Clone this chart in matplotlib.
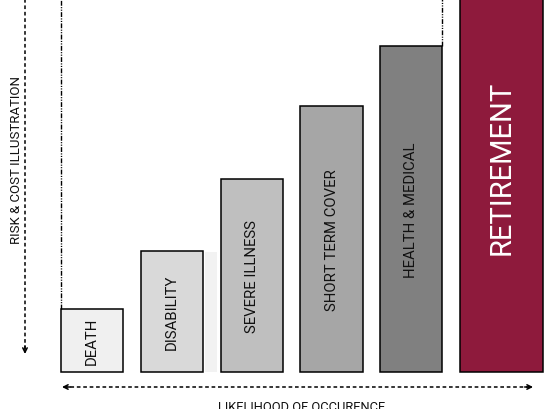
import matplotlib
matplotlib.use("Agg")
import matplotlib.pyplot as plt

plt.rcParams['font.family'] = ['Roboto', 'DejaVu Sans']

# Data (heights in relative risk/cost units)
categories = ['DEATH', 'DISABILITY', 'SEVERE ILLNESS', 'SHORT TERM COVER',
              'HEALTH & MEDICAL', 'RETIREMENT']
heights = [63, 121, 193, 266, 326, 410]
fills = ['#f0f0f0', '#d9d9d9', '#bfbfbf', '#a6a6a6', '#808080', '#8e1a3c']
text_colors = ['#111111'] * 5 + ['white']
label_sizes = [10.7] * 5 + [21]

positions = list(range(len(categories)))
widths = [0.78] * 5 + [1.04]

fig = plt.figure(figsize=(5.57, 4.10), dpi=100)
ax = fig.add_axes([0, 0, 1, 1])
ax.set_xlim(-0.764, 6.215)
ax.set_ylim(-37, 373)
ax.axis('off')

# faint shadow strip next to the disability bar
ax.bar(1.805, 120, width=0.15, align='edge', color='#f2f2f2', zorder=1)

ax.bar(positions, heights, width=widths, align='edge', color=fills,
       edgecolor='black', linewidth=1.1, zorder=2)

for x, w, h, name, c, fs in zip(positions, widths, heights, categories,
                                text_colors, label_sizes):
    ax.text(x + w / 2, h / 2, name, rotation=90, ha='center', va='center',
            color=c, fontsize=fs, zorder=3)

# dash-dot guide lines from the first and fifth bar
dashdot = (0, (3.5, 1.0, 0.8, 1.0, 0.8, 1.0))
ax.plot([0, 0], [heights[0], 400], color='black', lw=1.0, ls=dashdot)
ax.plot([4.78, 4.78], [heights[4], 400], color='black', lw=1.0, ls=dashdot)

# vertical risk arrow
ax.plot([-0.451, -0.451], [400, 20], color='black', lw=1.1, ls=(0, (2.4, 1.8)))
ax.annotate('', xy=(-0.451, 18), xytext=(-0.451, 26),
            arrowprops=dict(arrowstyle='->', lw=1.1, color='black',
                            shrinkA=0, shrinkB=0, mutation_scale=8))
ax.text(-0.556, 213, 'RISK & COST ILLUSTRATION', rotation=90,
        ha='center', va='center', fontsize=9.5, color='#111111')

# horizontal likelihood arrow
ax.plot([0.04, 5.89], [-15, -15], color='black', lw=1.1, ls=(0, (2.4, 1.8)))
ax.annotate('', xy=(0.0125, -15), xytext=(0.12, -15),
            arrowprops=dict(arrowstyle='->', lw=1.1, color='black',
                            shrinkA=0, shrinkB=0, mutation_scale=8))
ax.annotate('', xy=(5.915, -15), xytext=(5.81, -15),
            arrowprops=dict(arrowstyle='->', lw=1.1, color='black',
                            shrinkA=0, shrinkB=0, mutation_scale=8))
ax.text(3.02, -28, 'LIKELIHOOD OF OCCURENCE', ha='center', va='top',
        fontsize=9.3, color='#111111')

fig.savefig('out.png', dpi=100)
